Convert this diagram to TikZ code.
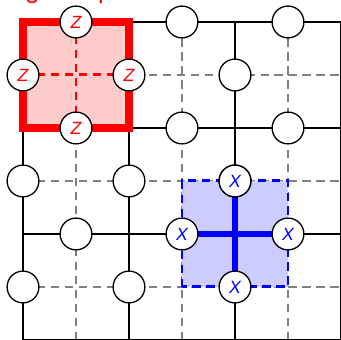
\documentclass[tikz,border=0pt]{standalone}
\usepackage{fontspec}
\setsansfont{Liberation Sans}
\usetikzlibrary{calc,positioning}

\tikzset{
  qubit/.style={circle, draw=black, fill=white, line width=0.7pt, minimum size=0.6cm, inner sep=0pt, font=\sffamily\itshape\fontsize{9.5}{11}\selectfont},
  dualline/.style={gray, line width=0.9pt, dash pattern=on 4.5pt off 3pt},
  primline/.style={black, line width=1.3pt}
}

\begin{document}
\begin{tikzpicture}[font=\sffamily]
		\useasboundingbox (-0.434,0) rectangle (6,6.415);
		\node[red, anchor=base west, inner sep=0pt, font=\sffamily\fontsize{13.5}{16}\selectfont] (title) at (-0.49,6.44) {Logical operator};
		\foreach \k in {1,3,5} {
			\draw[dualline] (\k,0) -- (\k,6);
			\draw[dualline] (0,\k) -- (6,\k);
		}
		\foreach \k in {0,2,4,6} {
			\draw[primline] (\k,0) -- (\k,6);
			\draw[primline] (0,\k) -- (6,\k);
		}
		\coordinate (Plaq) at (1,5);
		\coordinate (Star) at (4,2);
		\draw[red, fill=red!20, line width=3.8pt] ($(Plaq)+(-1,-1)$) rectangle ($(Plaq)+(1,1)$);
		\draw[red, line width=1.6pt, dash pattern=on 4.5pt off 3pt] ($(Plaq)+(0,1)$) -- ($(Plaq)+(0,-1)$);
		\draw[red, line width=1.6pt, dash pattern=on 4.5pt off 3pt] ($(Plaq)+(-1,0)$) -- ($(Plaq)+(1,0)$);
		\draw[blue, fill=blue!20, line width=1.6pt, dash pattern=on 4.5pt off 3pt] ($(Star)+(-1,-1)$) rectangle ($(Star)+(1,1)$);
		\draw[blue, line width=3.2pt] ($(Star)+(0,1)$) -- ($(Star)+(0,-1)$);
		\draw[blue, line width=3.2pt] ($(Star)+(-1,0)$) -- ($(Star)+(1,0)$);
		\foreach \x/\y/\n in {3/6/a, 5/6/b, 4/5/c, 3/4/d, 5/4/e, 0/3/f, 2/3/g, 2/1/h, 0/1/i, 1/2/j, 4/3/k} {
			\node[qubit] (q-\n) at (\x,\y) {};
		}
		\node[qubit, text=red] (zt) at ($(Plaq)+(0,1)$) {Z};
		\node[qubit, text=red] (zl) at ($(Plaq)+(-1,0)$) {Z};
		\node[qubit, text=red] (zr) at ($(Plaq)+(1,0)$) {Z};
		\node[qubit, text=red] (zb) at ($(Plaq)+(0,-1)$) {Z};
		\node[qubit, text=blue] (xt) at ($(Star)+(0,1)$) {X};
		\node[qubit, text=blue] (xl) at ($(Star)+(-1,0)$) {X};
		\node[qubit, text=blue] (xr) at ($(Star)+(1,0)$) {X};
		\node[qubit, text=blue] (xb) at ($(Star)+(0,-1)$) {X};
	\end{tikzpicture}
\end{document}
